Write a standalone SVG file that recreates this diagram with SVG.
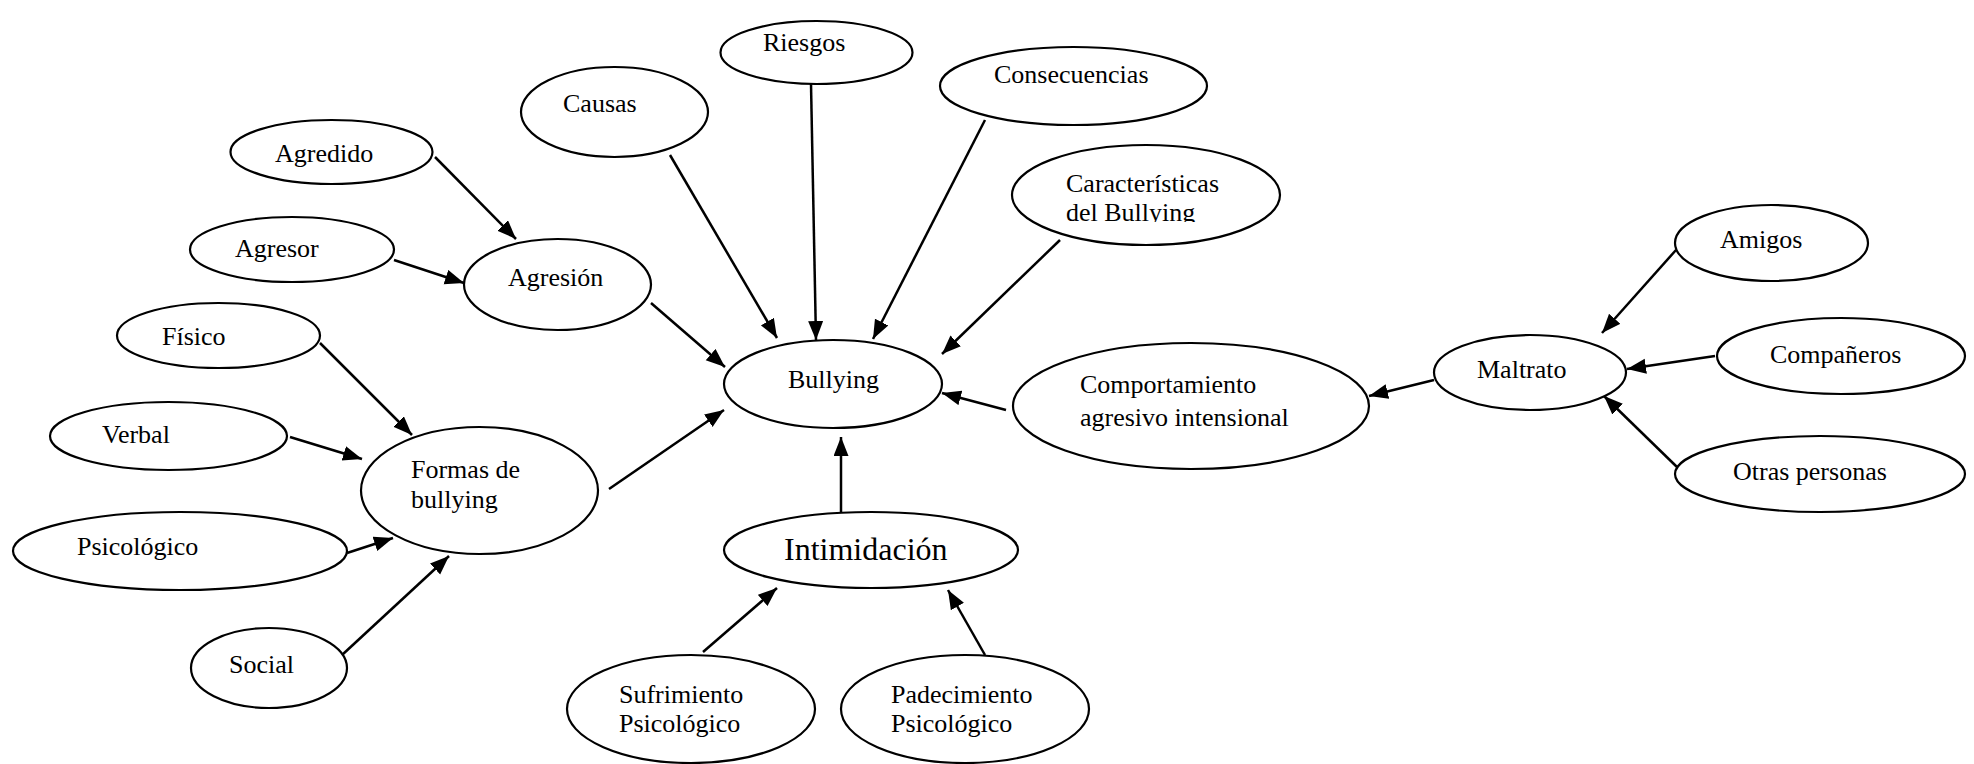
<svg xmlns="http://www.w3.org/2000/svg" width="1974" height="764" viewBox="0 0 1974 764">
<style>
.n ellipse{fill:#fff;stroke:#000;stroke-width:2.2}
text{font-family:"Liberation Serif","Times New Roman",serif;font-size:26px;fill:#000}
.big{font-size:32px}
.c line{stroke:#000;stroke-width:2.5;marker-end:url(#ah)}
</style>
<defs>
<marker id="ah" markerUnits="userSpaceOnUse" markerWidth="20" markerHeight="16" refX="19" refY="7.5" orient="auto">
<path d="M0,0 L19,7.5 L0,15 z" fill="#000"/>
</marker>
<clipPath id="clipCar"><rect x="1000" y="140" width="300" height="82"/></clipPath>
</defs>
<rect width="1974" height="764" fill="#fff"/>
<g class="c" id="connectors">
<line x1="435" y1="157" x2="516" y2="239"/>
<line x1="394" y1="260" x2="464" y2="283"/>
<line x1="651" y1="303" x2="725" y2="367"/>
<line x1="670" y1="155" x2="777" y2="338"/>
<line x1="811" y1="84" x2="816" y2="340"/>
<line x1="985" y1="120" x2="873" y2="339"/>
<line x1="1060" y1="240" x2="942" y2="354"/>
<line x1="1006" y1="410" x2="942" y2="393"/>
<line x1="1434" y1="380" x2="1369" y2="396"/>
<line x1="1676" y1="250" x2="1602" y2="333"/>
<line x1="1715" y1="356" x2="1627" y2="369"/>
<line x1="1677" y1="467" x2="1604" y2="396"/>
<line x1="320" y1="343" x2="412" y2="435"/>
<line x1="290" y1="437" x2="362" y2="459"/>
<line x1="347" y1="553" x2="393" y2="538"/>
<line x1="342" y1="655" x2="449" y2="556"/>
<line x1="609" y1="489" x2="724" y2="410"/>
<line x1="841" y1="512" x2="841" y2="437"/>
<line x1="703" y1="652" x2="777" y2="588"/>
<line x1="985" y1="655" x2="948" y2="590"/>
</g>
<g class="n" id="agredido"><ellipse cx="331.5" cy="152" rx="101" ry="32"/><text x="275" y="162">Agredido</text></g>
<g class="n" id="agresor"><ellipse cx="292" cy="249.5" rx="102" ry="32.5"/><text x="235" y="257">Agresor</text></g>
<g class="n" id="agresion"><ellipse cx="557.5" cy="284.5" rx="93.5" ry="45.5"/><text x="508" y="286">Agresión</text></g>
<g class="n" id="fisico"><ellipse cx="218.5" cy="335.5" rx="101.5" ry="32.5"/><text x="162" y="345">Físico</text></g>
<g class="n" id="causas"><ellipse cx="614.5" cy="112" rx="93.5" ry="45"/><text x="563" y="112">Causas</text></g>
<g class="n" id="riesgos"><ellipse cx="816.5" cy="52.5" rx="96" ry="31.5"/><text x="763" y="51">Riesgos</text></g>
<g class="n" id="consecuencias"><ellipse cx="1073.5" cy="86" rx="133.5" ry="39"/><text x="994" y="83">Consecuencias</text></g>
<g class="n" id="caracteristicas"><ellipse cx="1146" cy="195" rx="134" ry="50"/><g clip-path="url(#clipCar)"><text x="1066" y="192">Características</text><text x="1066" y="221">del Bullying</text></g></g>
<g class="n" id="bullying"><ellipse cx="833" cy="384" rx="109" ry="44"/><text x="788" y="388">Bullying</text></g>
<g class="n" id="comportamiento"><ellipse cx="1191" cy="406" rx="178" ry="63"/><text x="1080" y="393">Comportamiento</text><text x="1080" y="426">agresivo intensional</text></g>
<g class="n" id="maltrato"><ellipse cx="1530" cy="372.5" rx="96" ry="37.5"/><text x="1477" y="378">Maltrato</text></g>
<g class="n" id="amigos"><ellipse cx="1771.5" cy="243" rx="96.5" ry="38"/><text x="1720" y="248">Amigos</text></g>
<g class="n" id="companeros"><ellipse cx="1841" cy="356" rx="124" ry="38"/><text x="1770" y="363">Compañeros</text></g>
<g class="n" id="otras"><ellipse cx="1820" cy="474" rx="145" ry="38"/><text x="1733" y="480">Otras personas</text></g>
<g class="n" id="verbal"><ellipse cx="168.5" cy="436" rx="118.5" ry="34"/><text x="102" y="443">Verbal</text></g>
<g class="n" id="formas"><ellipse cx="479.5" cy="490.5" rx="118.5" ry="63.5"/><text x="411" y="478">Formas de</text><text x="411" y="508">bullying</text></g>
<g class="n" id="psicologico"><ellipse cx="180" cy="551" rx="167" ry="39"/><text x="77" y="555">Psicológico</text></g>
<g class="n" id="social"><ellipse cx="269" cy="668" rx="78" ry="40"/><text x="229" y="673">Social</text></g>
<g class="n" id="intimidacion"><ellipse cx="871" cy="550" rx="147" ry="38"/><text class="big" x="784" y="560">Intimidación</text></g>
<g class="n" id="sufrimiento"><ellipse cx="691" cy="709" rx="124" ry="54"/><text x="619" y="703">Sufrimiento</text><text x="619" y="732">Psicológico</text></g>
<g class="n" id="padecimiento"><ellipse cx="965" cy="709" rx="124" ry="54"/><text x="891" y="703">Padecimiento</text><text x="891" y="732">Psicológico</text></g>
</svg>
